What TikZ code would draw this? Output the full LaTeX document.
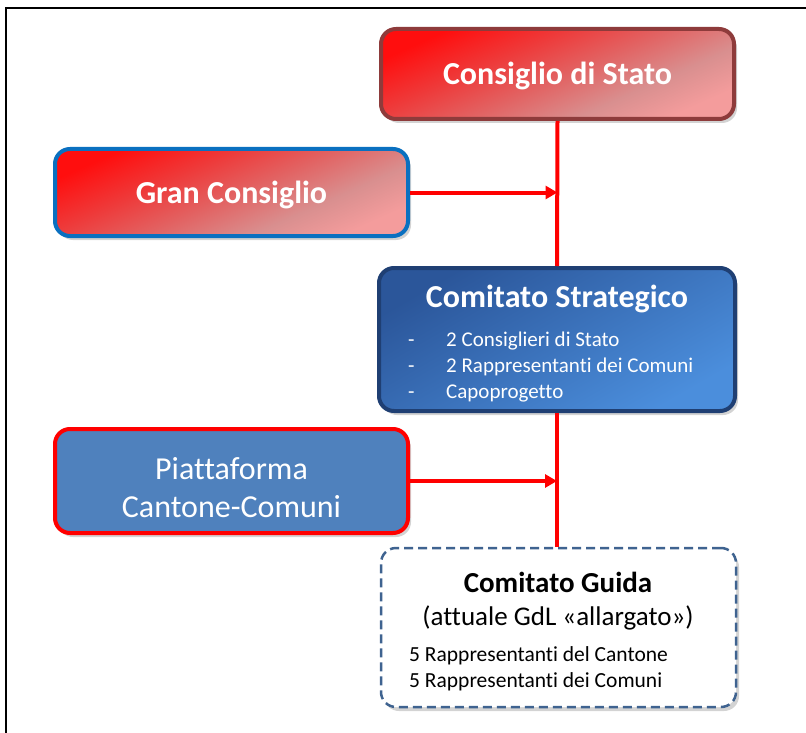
\documentclass[tikz,border=0pt]{standalone}
\usepackage{fontspec}
\setmainfont{Carlito}[Ligatures=NoCommon]
\usepackage{tikz}
\usetikzlibrary{arrows.meta, positioning, shadows, calc}

\definecolor{redtop}{HTML}{FF0E0E}
\definecolor{redtwo}{HTML}{EE3A3A}
\definecolor{redmid}{HTML}{E26262}
\definecolor{redgray}{HTML}{D98F8F}
\definecolor{redbot}{HTML}{F49C9C}
\definecolor{bluetop}{HTML}{2B569A}
\definecolor{bluebot}{HTML}{4B8EDC}
\definecolor{bluedark}{HTML}{1F3F73}
\definecolor{blueline}{HTML}{0A70C0}
\definecolor{blueflat}{HTML}{4F81BD}
\definecolor{darkred}{HTML}{8E3B3B}
\definecolor{dashblue}{HTML}{3F6390}

\pgfdeclarehorizontalshading{redgrad}{100bp}{color(0bp)=(redtop); color(25bp)=(redtop);
  color(39bp)=(redtwo); color(51bp)=(redmid); color(64bp)=(redgray);
  color(75bp)=(redbot); color(100bp)=(redbot)}
\pgfdeclarehorizontalshading{bluegrad}{100bp}{color(0bp)=(bluetop); color(25bp)=(bluetop);
  color(75bp)=(bluebot); color(100bp)=(bluebot)}

\begin{document}
\begin{tikzpicture}[
    x=1pt, y=-1pt,
    box/.style={rectangle, rounded corners=15pt, line width=4pt,
                inner sep=0pt, align=center, text=white,
                drop shadow={shadow xshift=3pt, shadow yshift=-4pt, opacity=0.35}},
    redbox/.style={box, shading=redgrad, shading angle=-66,
                   font=\fontsize{32}{38}\selectfont\bfseries,
                   text height=22pt, text depth=0pt},
    bluebox/.style={box, shading=bluegrad, shading angle=-60, draw=bluedark},
    title/.style={anchor=base, inner sep=0pt, font=\fontsize{32}{38}\selectfont\bfseries},
    items/.style={anchor=base west, inner sep=0pt, font=\fontsize{21}{26}\selectfont},
    arrow/.style={-{Triangle[length=12pt, width=13pt]}, red, line width=4pt},
    link/.style={red, line width=4pt}
]
    \useasboundingbox (0,0) rectangle (806,733);
    \draw[line width=2pt] (6,745) -- (6,8) -- (815,8);

    \node[redbox, draw=darkred, minimum width=353pt, minimum height=90pt]
        (stato) at (557.5,74) {Consiglio di Stato};

    \node[redbox, draw=blueline, minimum width=353pt, minimum height=87pt]
        (gran) at (231.5,192.5) {Gran Consiglio};

    \node[bluebox, minimum width=356pt, minimum height=143pt] (strat) at (557,339.5) {};
    \node[title, text=white] (strat-title) at (557,307) {Comitato Strategico};
    \node[items, text=white] (strat-list) at (408,346)
        {\begin{tabular}[t]{@{}p{38pt}@{}l@{}}
         - & 2 Consiglieri di Stato\\
         - & 2 Rappresentanti dei Comuni\\
         - & Capoprogetto
         \end{tabular}};

    \node[box, fill=blueflat, draw=red, minimum width=353pt, minimum height=104pt,
          font=\fontsize{32}{38.3}\selectfont] (piatt) at (231.5,481)
        {\rule{0pt}{35pt}Piattaforma\\Cantone-Comuni};

    \node[box, fill=white, draw=dashblue, line width=2.5pt,
          dash pattern=on 9pt off 5pt,
          minimum width=355pt, minimum height=159pt] (guida) at (558.5,627.5) {};
    \node[title, font=\fontsize{29}{34}\selectfont\bfseries] (guida-title)
        at (558,592) {Comitato Guida};
    \node[title, font=\fontsize{27}{32}\selectfont] (guida-sub)
        at (558,625) {(attuale GdL «allargato»)};
    \node[items, font=\fontsize{21.5}{26}\selectfont] (guida-list) at (409,661)
        {\begin{tabular}[t]{@{}l@{}}
         5 Rappresentanti del Cantone\\
         5 Rappresentanti dei Comuni
         \end{tabular}};

    % linee di collegamento
    \draw[link] (stato.south) -- (strat.north);
    \draw[link] (strat.south) -- (strat.south |- guida.north);
    \draw[arrow] (gran.east) -- (gran.east -| stato.south);
    \draw[arrow] (piatt.east) -- (piatt.east -| strat.south);
\end{tikzpicture}
\end{document}
